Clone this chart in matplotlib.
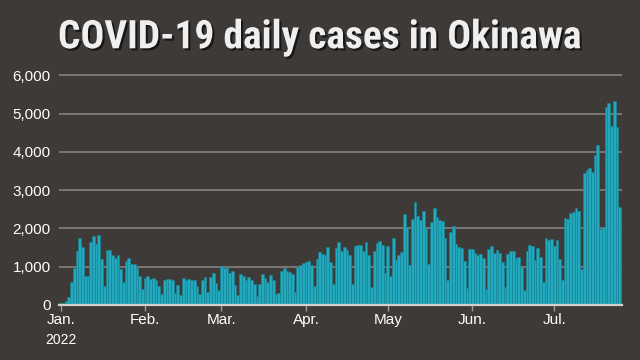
import matplotlib
matplotlib.use("Agg")
import matplotlib.pyplot as plt
import matplotlib.patheffects as pe
import matplotlib.dates as mdates
from matplotlib import font_manager
import numpy as np
import pandas as pd

# daily new cases, Okinawa 2022
jan = [51, 52, 105, 210, 605, 956, 1404, 1754, 1518, 763, 763, 1640, 1807, 1588, 1816, 1210,
       500, 1439, 1430, 1298, 1228, 1298, 947, 596, 1158, 1237, 1079, 1061, 974, 763, 430]
feb = [693, 763, 675, 693, 658, 491, 289, 658, 675, 675, 640, 325, 526, 263, 702, 649,
       684, 658, 649, 500, 289, 658, 719, 342, 737, 833, 570, 395]
mar = [1026, 974, 991, 825, 886, 518, 263, 816, 763, 649, 728, 658, 553, 237, 553, 807,
       702, 605, 781, 658, 281, 307, 895, 965, 900, 860, 807, 342, 982, 1044, 1100]
apr = [1123, 1158, 1053, 491, 1193, 1395, 1342, 1316, 1518, 1132, 553, 1491, 1649, 1421, 1518,
       1430, 1307, 553, 1544, 1570, 1561, 1421, 1658, 1298, 474, 1410, 1610, 1660, 1556, 843]
may = [1530, 748, 1748, 1174, 1304, 1390, 2367, 2044, 1048, 2253, 2690, 2320, 2230, 2454, 2005,
       1075, 2166, 2540, 2292, 2230, 2200, 1738, 651, 1908, 2070, 1590, 1524, 1498, 1158, 450, 1450]
jun = [1456, 1368, 1316, 1333, 1237, 421, 1456, 1553, 1351, 1430, 1351, 1114, 474, 1333, 1404,
       1400, 1215, 1263, 990, 400, 1410, 1580, 1535, 1165, 1490, 1263, 590, 1740, 1700, 1720]
jul = [1545, 1690, 1190, 660, 2265, 2240, 2395, 2430, 2525, 2455, 930, 3450, 3525, 3570, 3475,
       3920, 4175, 1990, 2045, 5175, 5270, 4675, 5333, 4650, 2560]

month_labels = ["Jan.", "Feb.", "Mar.", "Apr.", "May", "Jun.", "Jul."]
yticks = [0, 1000, 2000, 3000, 4000, 5000, 6000]

cases = jan + feb + mar + apr + may + jun + jul
dates = pd.date_range("2022-01-01", periods=len(cases), freq="D")
month_starts = pd.date_range("2022-01-01", "2022-07-01", freq="MS")

installed = {f.name for f in font_manager.fontManager.ttflist}
title_font = "Liberation Sans"
for cand in ["Liberation Sans Narrow", "Roboto Condensed", "Open Sans Condensed", "DejaVu Sans Condensed"]:
    if cand in installed:
        title_font = cand
        break

bg = "#3d3a38"
bar_color = "#22a9bd"

fig = plt.figure(figsize=(6.4, 3.6), dpi=100, facecolor=bg)
ax = fig.add_axes([0.092, 0.1528, 0.880, 0.6486])
ax.set_facecolor(bg)

x = mdates.date2num(dates)
ax.bar(x, cases, width=1.0, color=bar_color, edgecolor="#17879a", linewidth=0.4, zorder=2)

x0 = x[0]
ax.set_xlim(x0 - 0.63, x0 + 205.9)
ax.set_ylim(0, 6100)

ax.set_yticks(yticks)
ax.set_yticklabels([f"{v:,}" for v in yticks])
ax.grid(axis="y", color="#8c8886", linewidth=1.1, zorder=1)
ax.set_axisbelow(True)

ax.set_xticks(mdates.date2num(month_starts))
ax.set_xticklabels(month_labels)

for s in ["top", "right", "left"]:
    ax.spines[s].set_visible(False)
ax.spines["bottom"].set_color("#cfcfcf")
ax.spines["bottom"].set_linewidth(1.6)
ax.spines["bottom"].set_zorder(3)

ax.tick_params(axis="y", length=0, pad=6, labelcolor="white", labelsize=11)
ax.tick_params(axis="x", length=4, width=1, color="#9a9a9a", pad=2, labelcolor="white", labelsize=11)
for lab in ax.get_xticklabels() + ax.get_yticklabels():
    lab.set_fontfamily("Liberation Sans")

ax.text(x0, -0.12, "2022", transform=ax.get_xaxis_transform(), ha="center", va="top",
        color="white", fontsize=10, family="Liberation Sans")

title = fig.text(0.5, 0.895, "COVID-19 daily cases in Okinawa", ha="center", va="center",
                 color="#efefef", fontsize=26, fontweight="bold", family=title_font,
                 path_effects=[pe.SimplePatchShadow(offset=(1.5, -1.5), shadow_rgbFace="black", alpha=0.6),
                               pe.Normal()])

# fit the title to the width it has in the original (about 524 px)
renderer = fig.canvas.get_renderer()
w = title.get_window_extent(renderer).width
title.set_fontsize(26 * 524 / w)

fig.savefig("out.png", dpi=100, facecolor=bg)
